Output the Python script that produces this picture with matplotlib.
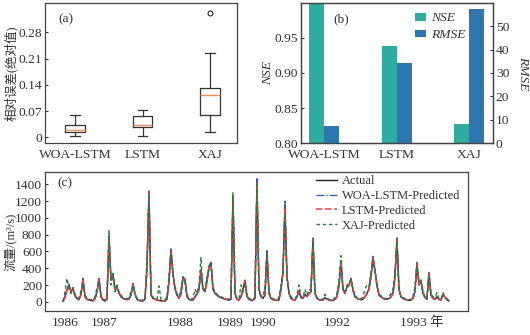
import matplotlib
matplotlib.use("Agg")
import matplotlib.pyplot as plt

plt.rcParams['font.family'] = ['Liberation Serif', 'Noto Sans CJK SC']
plt.rcParams['axes.edgecolor'] = '#444444'
plt.rcParams['axes.linewidth'] = 0.9

# ---------------- data ----------------
models = ['WOA-LSTM', 'LSTM', 'XAJ']
# box plot stats of relative error (absolute)
box_whislo = [0.003, 0.003, 0.013]
box_q1 = [0.013, 0.028, 0.060]
box_med = [0.020, 0.033, 0.112]
box_q3 = [0.032, 0.057, 0.132]
box_whishi = [0.060, 0.072, 0.225]
box_fliers = [[], [], [0.33]]

nse = [0.998, 0.938, 0.827]
rmse = [7.2, 34.1, 57.4]

actual = [5, 60, 150, 200, 120, 160, 70, 40, 25, 90, 280, 60, 30, 20, 15, 12, 40, 120, 280, 60,
          20, 10, 30, 780, 260, 330, 150, 170, 100, 60, 40, 30, 25, 30, 80, 220, 90, 30, 15, 10,
          10, 30, 400, 1320, 80, 40, 30, 20, 15, 12, 10, 10, 30, 250, 630, 340, 150, 80, 40, 100,
          290, 270, 60, 30, 20, 20, 60, 90, 150, 380, 150, 120, 250, 420, 470, 150, 100, 80, 60, 50,
          40, 30, 25, 20, 30, 1260, 100, 30, 20, 60, 150, 250, 60, 30, 20, 15, 40, 1450, 150, 60,
          40, 80, 610, 100, 40, 25, 20, 15, 20, 150, 350, 1150, 300, 100, 40, 25, 20, 60, 130, 50,
          40, 90, 60, 100, 120, 760, 100, 40, 25, 20, 20, 50, 30, 20, 15, 15, 30, 60, 200, 480,
          150, 100, 180, 200, 280, 150, 60, 40, 30, 25, 30, 60, 100, 150, 300, 540, 380, 200, 80, 60,
          40, 30, 30, 40, 60, 100, 300, 760, 150, 60, 40, 30, 20, 15, 20, 40, 120, 460, 200, 260,
          100, 50, 30, 350, 80, 40, 30, 60, 30, 20, 90, 50, 25, 10]

woa_pred = [5, 55, 140, 210, 120, 150, 70, 40, 25, 85, 270, 60, 30, 20, 15, 12, 40, 115, 285, 60,
            20, 10, 30, 770, 250, 320, 150, 165, 100, 60, 40, 30, 25, 30, 80, 215, 90, 30, 15, 10,
            10, 30, 390, 1310, 80, 40, 30, 20, 15, 12, 10, 10, 30, 240, 620, 330, 150, 80, 40, 95,
            280, 260, 60, 30, 20, 20, 60, 90, 150, 370, 150, 120, 240, 430, 460, 150, 100, 80, 60, 50,
            40, 30, 25, 20, 30, 1250, 100, 30, 20, 60, 150, 260, 60, 30, 20, 15, 40, 1480, 150, 60,
            40, 80, 600, 100, 40, 25, 20, 15, 20, 150, 350, 1200, 300, 100, 40, 25, 20, 60, 130, 50,
            40, 90, 60, 100, 120, 750, 100, 40, 25, 20, 20, 50, 30, 20, 15, 15, 30, 60, 200, 470,
            150, 100, 180, 200, 270, 150, 60, 40, 30, 25, 30, 60, 100, 150, 300, 530, 370, 200, 80, 60,
            40, 30, 30, 40, 60, 100, 290, 750, 150, 60, 40, 30, 20, 15, 20, 40, 120, 470, 200, 250,
            100, 50, 30, 340, 80, 40, 30, 60, 30, 20, 90, 50, 25, 10]

lstm_pred = [5, 50, 140, 190, 130, 150, 80, 45, 30, 80, 260, 70, 35, 22, 16, 14, 35, 110, 270, 70,
             25, 12, 35, 760, 270, 310, 160, 160, 110, 65, 45, 32, 28, 32, 75, 210, 100, 35, 18, 12,
             12, 35, 380, 1300, 100, 45, 32, 22, 17, 14, 12, 12, 35, 230, 610, 350, 160, 90, 45, 90,
             270, 270, 70, 35, 22, 22, 55, 85, 140, 360, 160, 125, 230, 410, 450, 160, 110, 85, 65, 55,
             45, 35, 28, 22, 35, 1240, 110, 35, 22, 55, 140, 250, 70, 35, 22, 17, 45, 1420, 160, 65,
             45, 75, 590, 110, 45, 28, 22, 17, 22, 140, 340, 1130, 310, 110, 45, 28, 22, 55, 125, 55,
             45, 85, 65, 95, 115, 740, 110, 45, 28, 22, 22, 45, 32, 22, 17, 17, 28, 55, 190, 460,
             160, 105, 170, 190, 270, 160, 65, 45, 32, 28, 32, 55, 95, 140, 290, 520, 370, 210, 90, 65,
             45, 32, 32, 38, 55, 95, 280, 740, 160, 65, 45, 32, 22, 17, 22, 38, 110, 450, 210, 250,
             110, 55, 32, 340, 90, 45, 32, 55, 32, 22, 85, 55, 28, 12]

xaj_pred = [10, 120, 280, 150, 100, 170, 90, 60, 40, 130, 200, 80, 50, 30, 25, 20, 60, 160, 250, 80,
            35, 20, 60, 850, 200, 340, 120, 200, 120, 80, 50, 40, 35, 50, 120, 180, 100, 40, 25, 20,
            20, 50, 500, 1290, 70, 60, 45, 30, 190, 30, 20, 20, 60, 300, 580, 300, 180, 100, 60, 150,
            300, 230, 80, 50, 30, 40, 150, 100, 200, 530, 130, 150, 300, 380, 440, 170, 120, 90, 70, 60,
            50, 40, 35, 30, 60, 1300, 80, 40, 30, 200, 120, 220, 80, 40, 30, 25, 60, 1400, 130, 70,
            60, 180, 580, 120, 60, 35, 30, 25, 50, 200, 350, 1050, 280, 120, 60, 35, 30, 80, 200, 60,
            50, 150, 80, 150, 130, 720, 120, 50, 35, 30, 30, 90, 40, 30, 25, 25, 50, 100, 250, 550,
            130, 120, 200, 220, 260, 130, 70, 50, 40, 35, 60, 150, 200, 180, 350, 500, 340, 180, 90, 70,
            50, 40, 40, 60, 100, 150, 350, 720, 130, 70, 50, 40, 30, 25, 30, 60, 180, 430, 230, 240,
            120, 60, 40, 320, 100, 60, 50, 110, 40, 30, 110, 60, 35, 15]

year_labels = ['1986', '1987', '1988', '1989', '1990', '1992', '1993 年']
year_ticks = [1, 20.5, 58.5, 83.5, 100, 137, 179.5]

# ---------------- figure ----------------
fig = plt.figure(figsize=(5.30, 3.35), dpi=100)
fs = 9.7
cjk_fs = 9
tcol = '#333333'
tick_kw = dict(direction='in', length=2.5, width=0.8, labelsize=fs, colors=tcol, pad=2)

# (a) box plot
axa = fig.add_axes([0.0849, 0.5731, 0.3623, 0.418])
stats = []
for i, m in enumerate(models):
    stats.append(dict(label=m, whislo=box_whislo[i], q1=box_q1[i], med=box_med[i],
                      q3=box_q3[i], whishi=box_whishi[i], fliers=box_fliers[i]))
axa.bxp(stats, positions=[1, 2, 3], widths=0.29,
        boxprops=dict(color='#333333', linewidth=0.9),
        whiskerprops=dict(color='#333333', linewidth=0.9),
        capprops=dict(color='#333333', linewidth=0.9),
        medianprops=dict(color='#f28a5a', linewidth=1.0),
        flierprops=dict(marker='o', markersize=3.5, markerfacecolor='none',
                        markeredgecolor='#222222', markeredgewidth=0.8))
axa.set_xlim(0.555, 3.4)
axa.set_ylim(-0.015, 0.358)
axa.set_yticks([0, 0.07, 0.14, 0.21, 0.28])
axa.set_yticklabels(['0', '0.07', '0.14', '0.21', '0.28'])
axa.set_ylabel('相对误差(绝对值)', fontsize=cjk_fs, color=tcol)
axa.yaxis.set_label_coords(-0.142, 0.5)
axa.tick_params(**tick_kw)
axa.tick_params(axis='x', length=0, pad=4)
axa.text(0.07, 0.93, '(a)', transform=axa.transAxes, fontsize=fs, va='top', color=tcol)

# (b) NSE / RMSE bars
axb = fig.add_axes([0.568, 0.5731, 0.3623, 0.418])
xs = [1, 2, 3]
bw = 0.205
b1 = axb.bar([x - bw / 2 for x in xs], nse, width=bw, color='#2eaca1', label='NSE')
axb.set_ylim(0.80, 1.0)
axb.set_yticks([0.80, 0.85, 0.90, 0.95])
axb.set_yticklabels(['0.80', '0.85', '0.90', '0.95'])
axb.set_xlim(0.68, 3.33)
axb.set_xticks(xs)
axb.set_xticklabels(models)
axb.set_ylabel('NSE', fontsize=fs, style='italic', color=tcol)
axb.yaxis.set_label_coords(-0.14, 0.5)
axb.tick_params(**tick_kw)
axb.tick_params(axis='x', length=0, pad=4)
axb2 = axb.twinx()
b2 = axb2.bar([x + bw / 2 for x in xs], rmse, width=bw, color='#2e76ae', label='RMSE')
axb2.set_ylim(0, 60)
axb2.set_yticks([0, 10, 20, 30, 40, 50])
axb2.set_ylabel('RMSE', fontsize=fs, style='italic', color=tcol, rotation=270)
axb2.yaxis.set_label_coords(1.185, 0.5)
axb2.tick_params(**tick_kw)
axb.text(0.17, 0.93, '(b)', transform=axb.transAxes, fontsize=fs, va='top', color=tcol)
leg = axb.legend([b1, b2], ['NSE', 'RMSE'], loc='upper right', bbox_to_anchor=(0.9, 0.99),
                 frameon=False, fontsize=fs, handlelength=0.8, handleheight=0.5,
                 handletextpad=0.4, labelspacing=0.35, borderaxespad=0.2)
for t in leg.get_texts():
    t.set_style('italic')
    t.set_color(tcol)

# (c) time series
axc = fig.add_axes([0.0849, 0.0716, 0.798, 0.415])
idx = list(range(len(actual)))
axc.plot(idx, actual, color='#222222', lw=1.0, label='Actual')
axc.plot(idx, woa_pred, color='#2f55c0', lw=0.9, ls='-.', label='WOA-LSTM-Predicted')
axc.plot(idx, lstm_pred, color='#f03c3c', lw=1.1, ls=(0, (4, 2)), label='LSTM-Predicted')
axc.plot(idx, xaj_pred, color='#2a7a3a', lw=1.0, ls=(0, (2.5, 2)), label='XAJ-Predicted')
axc.set_xlim(-9, 202.5)
axc.set_ylim(-110, 1548)
axc.set_yticks(list(range(0, 1401, 200)))
axc.set_xticks(year_ticks)
axc.set_xticklabels(year_labels)
axc.set_ylabel('流量/(m³/s)', fontsize=cjk_fs, color=tcol)
axc.yaxis.set_label_coords(-0.064, 0.5)
axc.tick_params(**tick_kw)
axc.tick_params(axis='x', length=0, pad=4)
axc.text(0.03, 0.96, '(c)', transform=axc.transAxes, fontsize=fs, va='top', color=tcol)
lc = axc.legend(loc='upper right', bbox_to_anchor=(1.0, 1.03), frameon=False, fontsize=9.0,
                handlelength=1.7, handletextpad=0.4, labelspacing=0.22, borderaxespad=0.2)
for t in lc.get_texts():
    t.set_color(tcol)

fig.savefig('out.png', dpi=100)
